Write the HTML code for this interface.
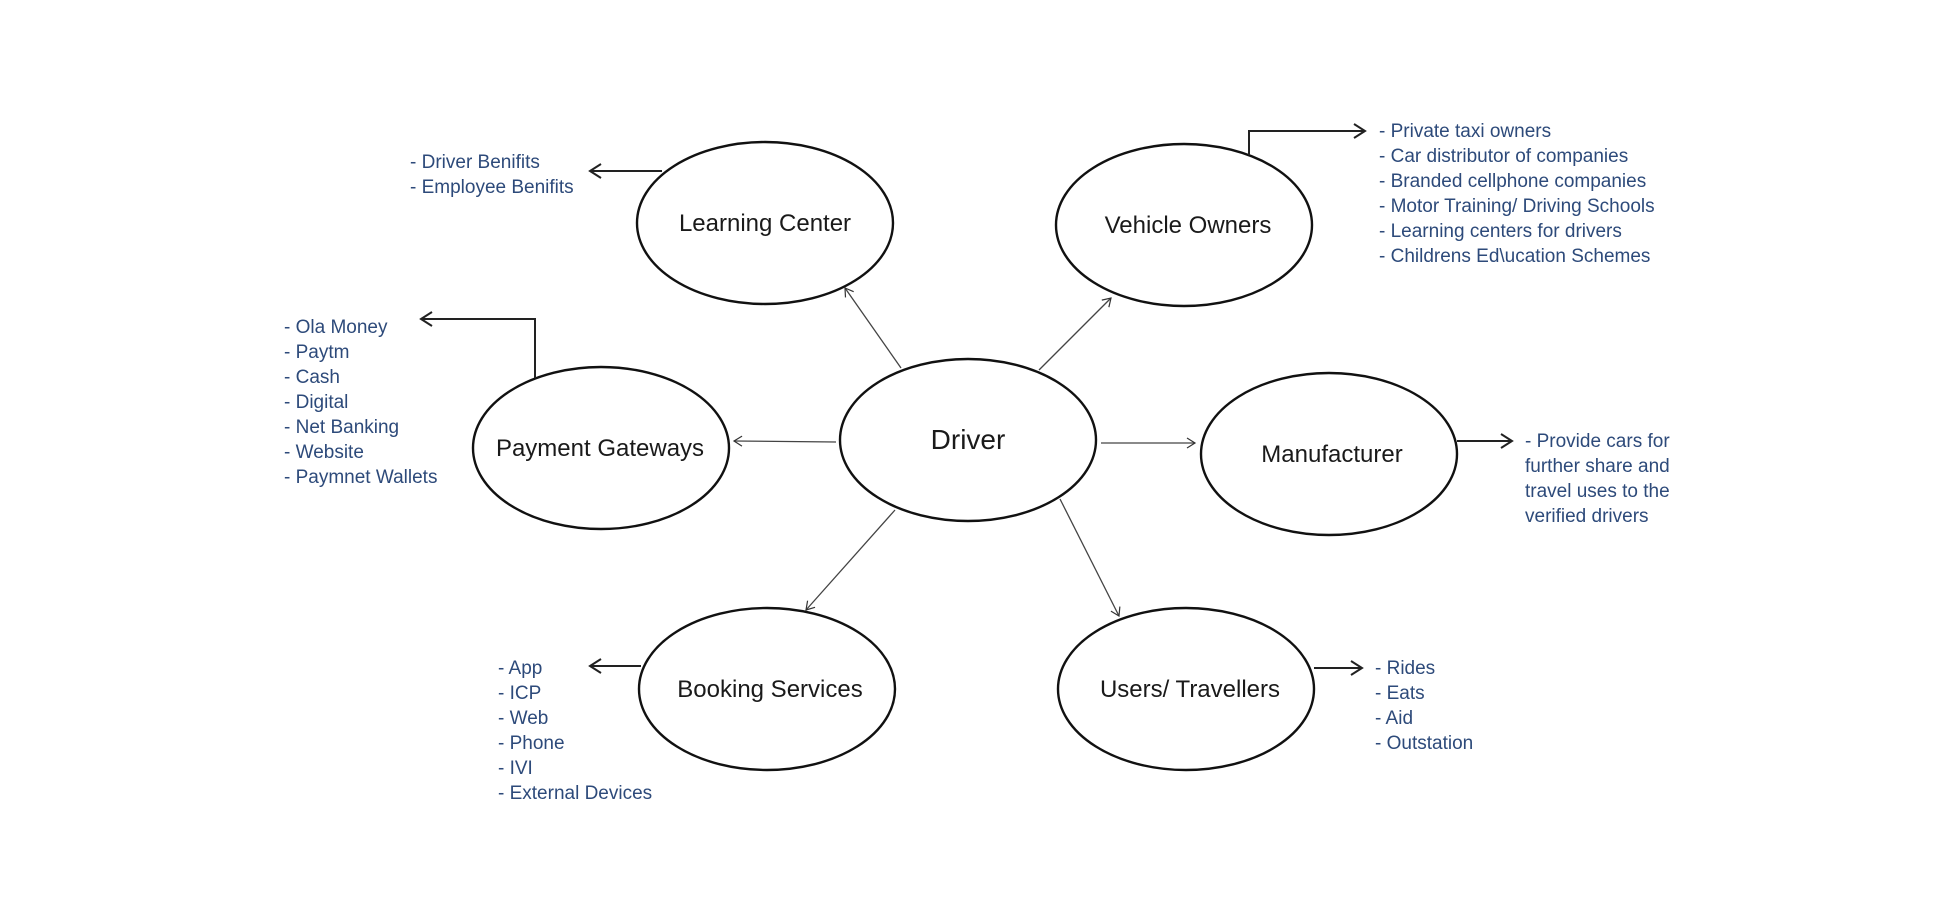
<!DOCTYPE html>
<html><head><meta charset="utf-8"><style>
html,body{margin:0;padding:0;background:#fff;}
svg{display:block}
.n{font-family:"Liberation Sans",sans-serif;font-size:24px;fill:#1a1a1a;text-anchor:middle}
.l{font-family:"Liberation Sans",sans-serif;font-size:19px;fill:#2d4a7a}
</style></head><body>
<svg width="1960" height="904" viewBox="0 0 1960 904" xmlns="http://www.w3.org/2000/svg">
<defs>
<marker id="a" markerWidth="12" markerHeight="12" refX="10" refY="6" orient="auto" markerUnits="userSpaceOnUse">
<path d="M2,1 L10,6 L2,11" fill="none" stroke="#333" stroke-width="1.2"/></marker>
<marker id="b" markerWidth="16" markerHeight="16" refX="14" refY="8" orient="auto" markerUnits="userSpaceOnUse">
<path d="M3,1 L14,8 L3,15" fill="none" stroke="#222" stroke-width="2"/></marker>
</defs>
<g fill="none" stroke="#111" stroke-width="2.4">
<ellipse cx="968" cy="440" rx="128" ry="81"/>
<ellipse cx="765" cy="223" rx="128" ry="81"/>
<ellipse cx="1184" cy="225" rx="128" ry="81"/>
<ellipse cx="601" cy="448" rx="128" ry="81"/>
<ellipse cx="1329" cy="454" rx="128" ry="81"/>
<ellipse cx="767" cy="689" rx="128" ry="81"/>
<ellipse cx="1186" cy="689" rx="128" ry="81"/>
</g>
<g stroke="#444" stroke-width="1.3" fill="none" marker-end="url(#a)">
<line x1="901" y1="368" x2="845" y2="288"/>
<line x1="1039" y1="370" x2="1111" y2="298"/>
<line x1="836" y1="442" x2="734" y2="441"/>
<line x1="1101" y1="443" x2="1195" y2="443"/>
<line x1="895" y1="510" x2="806" y2="610"/>
<line x1="1060" y1="499" x2="1119" y2="616"/>
</g>
<g stroke="#222" stroke-width="2" fill="none" marker-end="url(#b)">
<polyline points="662,171 590,171"/>
<polyline points="535,378 535,319 421,319"/>
<polyline points="1249,155 1249,131 1365,131"/>
<polyline points="1457,441 1512,441"/>
<polyline points="641,666 590,666"/>
<polyline points="1314,668 1362,668"/>
</g>
<text class="n" x="968" y="449" style="font-size:28px">Driver</text>
<text class="n" x="765" y="231">Learning Center</text>
<text class="n" x="1188" y="233">Vehicle Owners</text>
<text class="n" x="600" y="456">Payment Gateways</text>
<text class="n" x="1332" y="462">Manufacturer</text>
<text class="n" x="770" y="697">Booking Services</text>
<text class="n" x="1190" y="697">Users/ Travellers</text>
<g class="l">
<text x="410" y="168">- Driver Benifits</text>
<text x="410" y="193">- Employee Benifits</text>
</g>
<g class="l">
<text x="284" y="333">- Ola Money</text>
<text x="284" y="358">- Paytm</text>
<text x="284" y="383">- Cash</text>
<text x="284" y="408">- Digital</text>
<text x="284" y="433">- Net Banking</text>
<text x="284" y="458">- Website</text>
<text x="284" y="483">- Paymnet Wallets</text>
</g>
<g class="l">
<text x="1379" y="137">- Private taxi owners</text>
<text x="1379" y="162">- Car distributor of companies</text>
<text x="1379" y="187">- Branded cellphone companies</text>
<text x="1379" y="212">- Motor Training/ Driving Schools</text>
<text x="1379" y="237">- Learning centers for drivers</text>
<text x="1379" y="262">- Childrens Ed\ucation Schemes</text>
</g>
<g class="l">
<text x="1525" y="447">- Provide cars for</text>
<text x="1525" y="472">further share and</text>
<text x="1525" y="497">travel uses to the</text>
<text x="1525" y="522">verified drivers</text>
</g>
<g class="l">
<text x="498" y="674">- App</text>
<text x="498" y="699">- ICP</text>
<text x="498" y="724">- Web</text>
<text x="498" y="749">- Phone</text>
<text x="498" y="774">- IVI</text>
<text x="498" y="799">- External Devices</text>
</g>
<g class="l">
<text x="1375" y="674">- Rides</text>
<text x="1375" y="699">- Eats</text>
<text x="1375" y="724">- Aid</text>
<text x="1375" y="749">- Outstation</text>
</g>
</svg>
</body></html>
